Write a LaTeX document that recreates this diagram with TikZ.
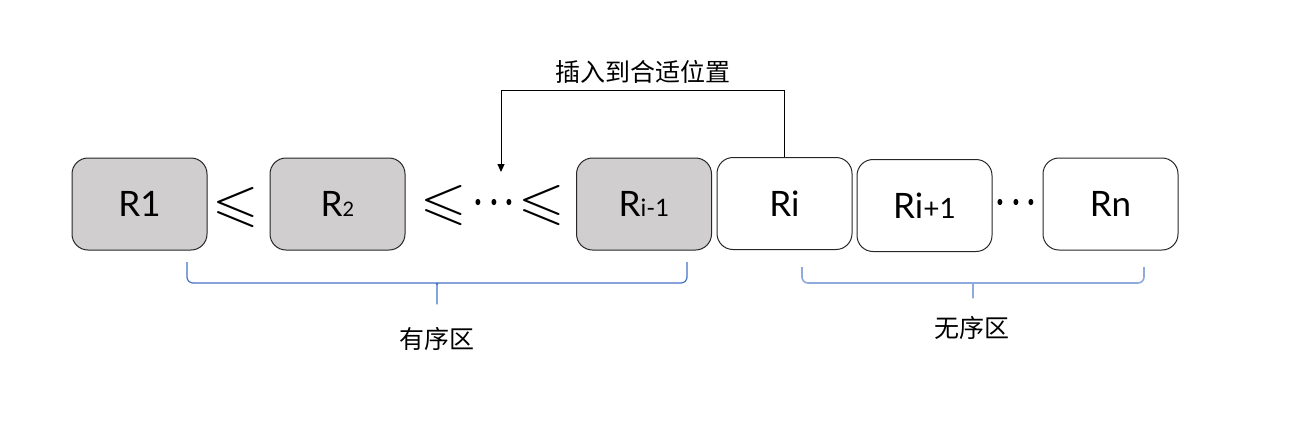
\documentclass[tikz,border=0pt]{standalone}
\usepackage{fontspec}
\usepackage{amssymb}
\usepackage{graphicx}
\setmainfont{Lato}
\newfontfamily\cjk{Noto Sans CJK SC}
\usetikzlibrary{arrows.meta}
\definecolor{cellgray}{HTML}{D0CECE}
\definecolor{bracedark}{HTML}{4472C4}
\definecolor{bracelight}{HTML}{8FAADC}
\begin{document}
\begin{tikzpicture}[x=0.5pt,y=-0.5pt,
	cell/.style={draw=black!85, line width=0.5pt, rounded corners=8pt, minimum width=67.5pt, minimum height=46pt, inner sep=0pt, font=\fontsize{17.5}{20}\selectfont},
	sorted/.style={cell, fill=cellgray},
	rel/.style={inner sep=0pt, font=\fontsize{26}{26}\selectfont},
	zone/.style={inner sep=0pt, font=\cjk\fontsize{12.5}{14}\selectfont}]
	\useasboundingbox (0,0) rectangle (1305,424);
	\node[sorted] (r1) at (139.5,204) {R1};
	\node[sorted] (r2) at (337.5,204) {R{\fontsize{10}{10}\selectfont 2}};
	\node[sorted] (rim) at (644,204) {R{\fontsize{12}{12}\selectfont i-1}};
	\node[cell] (ri) at (784.5,203.5) {Ri};
	\node[cell] (rip) at (924.5,205.5) {Ri{\fontsize{14}{14}\selectfont +1}};
	\node[cell] (rn) at (1110.5,204) {Rn};
	\node[rel] (le1) at (236,207) {\scalebox{1.15}[1]{$\leqslant$}};
	\node[rel] (le2) at (444,205) {\scalebox{1.15}[1]{$\leqslant$}};
	\node[rel] (dt1) at (494,203) {\scalebox{0.62}[0.8]{\boldmath$\cdots$}};
	\node[rel] (le3) at (542,205) {\scalebox{1.15}[1]{$\leqslant$}};
	\node[rel] (dt2) at (1016,203) {\scalebox{0.62}[0.8]{\boldmath$\cdots$}};
	\coordinate (tgt) at (501,172);
	\draw[line width=0.5pt, -{Triangle[width=3.5pt,length=4pt]}] (ri.north) -- ++(0,-67) -| (tgt);
	\node[zone] (ins) at (643,72) {插入到合适位置};
	\draw[bracedark, line width=0.6pt, rounded corners=3pt] (187,262) |- (432,283) .. controls (436,283) and (437,286) .. (437,291) -- (437,308) -- (437,291) .. controls (437,286) and (438,283) .. (442,283) -| (687,262);
	\draw[bracelight, line width=0.8pt, rounded corners=3pt] (802,267) |- (968,283) .. controls (972,283) and (973,286) .. (973,291) -- (973,302) -- (973,291) .. controls (973,286) and (974,283) .. (978,283) -| (1144,267);
	\node[zone] (ord) at (437,339) {有序区};
	\node[zone] (unord) at (972,328) {无序区};
\end{tikzpicture}
\end{document}
